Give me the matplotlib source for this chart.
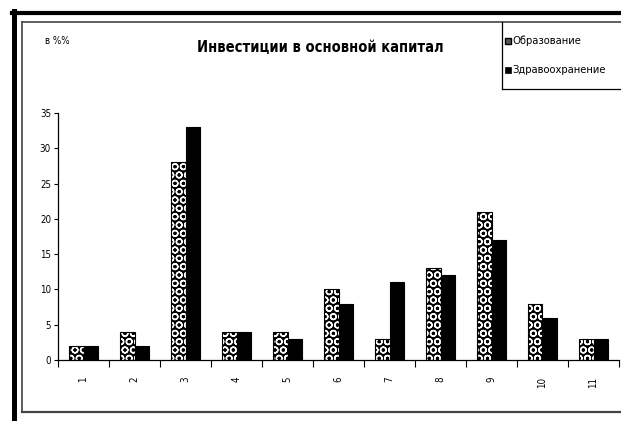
import matplotlib
matplotlib.use('Agg')
import numpy as np
import matplotlib.pyplot as plt
from matplotlib.lines import Line2D

plt.rcParams['font.family'] = ['DejaVu Sans']
plt.rcParams['font.stretch'] = 'condensed'
plt.rcParams['hatch.linewidth'] = 1.0

categories = ['1', '2', '3', '4', '5', '6', '7', '8', '9', '10', '11']
obrazovanie = [2, 4, 28, 4, 4, 10, 3, 13, 21, 8, 3]
zdravoohr = [2, 2, 33, 4, 3, 8, 11, 12, 17, 6, 3]

W, H = 621, 421
fig = plt.figure(figsize=(W / 100, H / 100), dpi=100)

def fx(px):
    return px / W

def fy(py):
    return 1 - py / H

ax = fig.add_axes([fx(58), fy(360), fx(619) - fx(58), fy(113) - fy(360)])

x = np.arange(1, len(categories) + 1)
bw = 0.285

# education : black bars with white rings
ax.bar(x - bw / 2, obrazovanie, bw, color='black', edgecolor='white',
       hatch='OO', linewidth=0)
ax.bar(x - bw / 2, obrazovanie, bw, fill=False, edgecolor='black', linewidth=0.8)
ax.bar(x + bw / 2, zdravoohr, bw, color='black', edgecolor='black', linewidth=0.8)

ax.set_xlim(0.5, len(categories) + 0.5)
ax.set_ylim(0, 35)
ax.set_yticks(range(0, 36, 5))
ax.tick_params(axis='y', labelsize=7, length=3, width=0.8, direction='out', pad=2)

ax.set_xticks(np.arange(0.5, len(categories) + 1, 1))
ax.set_xticklabels([])
ax.set_xticks(x, minor=True)
ax.set_xticklabels(categories, minor=True, rotation=90, fontsize=7)
ax.tick_params(axis='x', which='major', length=5, width=0.8, direction='out')
ax.tick_params(axis='x', which='minor', length=0, pad=12)

for s in ['top', 'right']:
    ax.spines[s].set_visible(False)
for s in ['left', 'bottom']:
    ax.spines[s].set_linewidth(0.9)

# frames
fig.add_artist(Line2D([fx(14), fx(14)], [fy(11), 0], color='black', lw=3.6))
fig.add_artist(Line2D([fx(12), 1], [fy(13), fy(13)], color='black', lw=3.0))
fig.add_artist(Line2D([fx(22), fx(22)], [fy(22), fy(412)], color='#444444', lw=1.2))
fig.add_artist(Line2D([fx(22), 1], [fy(22), fy(22)], color='#444444', lw=1.2))
fig.add_artist(Line2D([fx(22), 1], [fy(412), fy(412)], color='#444444', lw=1.6))

fig.text(fx(320), fy(48), 'Инвестиции в основной капитал', ha='center', va='center',
         fontsize=10.5, fontweight='bold')
fig.text(fx(45), fy(41), 'в %%', ha='left', va='center', fontsize=7)

# legend box
fig.add_artist(Line2D([fx(502), fx(502)], [fy(22), fy(89)], color='black', lw=0.9))
fig.add_artist(Line2D([fx(502), 1], [fy(89), fy(89)], color='black', lw=0.9))
fig.patches.append(plt.Rectangle((fx(505), fy(44)), fx(6), fy(38) - fy(44), transform=fig.transFigure,
                                 facecolor='#555555', edgecolor='black', lw=1.0, figure=fig))
fig.patches.append(plt.Rectangle((fx(505), fy(73)), fx(6), fy(67) - fy(73), transform=fig.transFigure,
                                 facecolor='black', edgecolor='black', lw=0.5, figure=fig))
fig.text(fx(512), fy(41), 'Образование', ha='left', va='center', fontsize=8)
fig.text(fx(512), fy(70), 'Здравоохранение', ha='left', va='center', fontsize=8)

fig.savefig('out.png', dpi=100)
